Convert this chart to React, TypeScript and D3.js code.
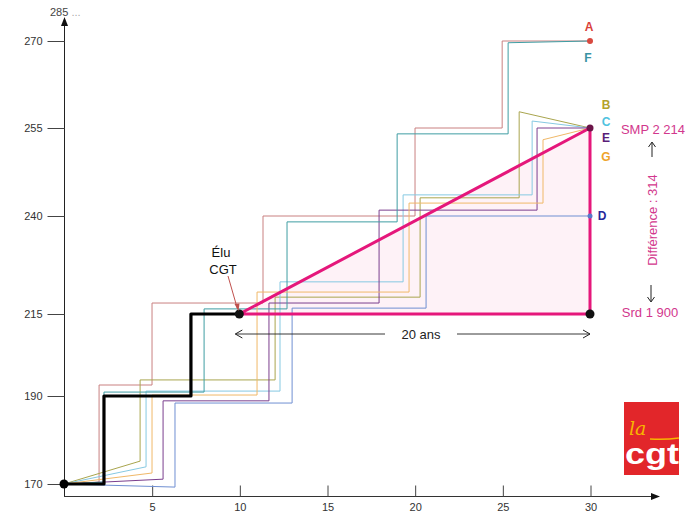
import { useEffect, useRef } from "react";
import * as d3 from "d3";

// échelles "à la main" : les graduations ne sont pas régulières
const yTicks = [170, 190, 215, 240, 255, 270];
const xTicks = [5, 10, 15, 20, 25, 30];

const serieNames = ["A", "B", "C", "D", "E", "F", "G"];
const serieColors = ["#c98080", "#a9a54e", "#86c9e2", "#6f8fd2", "#7b3f8e", "#3f9da3", "#f0b868"];
const labelColors = ["#d9413a", "#b3a22c", "#4fc3df", "#27279a", "#5a1e78", "#3a93a3", "#eea32a"];

const serieA: [number, number][] = [[0, 170], [2.0, 170.45], [2.0, 193.35], [5.02, 193.35], [5.02, 217.8], [11.35, 217.8], [11.35, 240], [20.02, 240], [20.02, 255], [24.99, 255], [24.99, 270], [30, 270]];
const serieB: [number, number][] = [[0, 170], [4.34, 175.2], [4.34, 194.9], [12.04, 194.9], [12.04, 219.3], [20.31, 219.3], [20.31, 243.1], [25.96, 243.1], [25.96, 257.8], [30, 255]];
const serieC: [number, number][] = [[0, 170], [4.68, 173.9], [4.68, 191.5], [12.32, 191.5], [12.32, 223.2], [19.34, 223.2], [19.34, 243.6], [26.7, 243.6], [26.7, 256.2], [30, 255]];
const serieD: [number, number][] = [[0, 170], [6.33, 169.3], [6.33, 188.4], [13.01, 188.4], [13.01, 216.5], [20.65, 216.5], [20.65, 240], [30, 240]];
const serieE: [number, number][] = [[0, 170], [5.65, 171.1], [5.65, 188.9], [11.69, 188.9], [11.69, 217.8], [17.97, 217.8], [17.97, 241.0], [26.98, 241.0], [26.98, 255], [30, 255]];
const serieF: [number, number][] = [[0, 170], [2.28, 170.45], [2.28, 191.2], [7.99, 191.2], [7.99, 216.3], [12.72, 216.3], [12.72, 238.5], [19.0, 238.5], [19.0, 254.0], [25.33, 254.0], [25.33, 269.7], [30, 270]];
const serieG: [number, number][] = [[0, 170], [5.02, 172.5], [5.02, 190.3], [11.01, 190.3], [11.01, 220.6], [19.68, 220.6], [19.68, 242.2], [27.32, 242.2], [27.32, 253.0], [30, 255]];
const series = [serieA, serieB, serieC, serieD, serieE, serieF, serieG];

// parcours de l'élu CGT
const eluCgt: [number, number][] = [[0, 170], [2.28, 170], [2.28, 190], [7.24, 190], [7.24, 215], [10, 215]];
// triangle : Srd 1 900 -> SMP 2 214 sur 20 ans
const triangle: [number, number][] = [[10, 215], [30, 215], [30, 255]];

const FONT = "'Liberation Sans', Arial, sans-serif";
const PINK = "#e5177b";
const PINK_TXT = "#d2378d";

const App = () => {
  const ref = useRef<SVGSVGElement>(null);

  useEffect(() => {
    if (!ref.current) return;
    const svg = d3.select(ref.current);
    svg.selectAll("*").remove();

    const x = d3.scaleLinear().domain([0, 30]).range([64, 590]);
    const y = d3
      .scaleLinear()
      .domain(yTicks)
      .range([484, 396, 314, 216, 128, 41]);

    const axisY0 = 496; // l'axe des x passe sous le point de départ
    const line = d3
      .line<[number, number]>()
      .x((d) => x(d[0]))
      .y((d) => y(d[1]));

    // zone rose
    svg
      .append("path")
      .attr("d", line(triangle) + "Z")
      .attr("fill", "#fdedf4")
      .attr("opacity", 0.7);

    // axes
    svg
      .append("line")
      .attr("x1", 64.5).attr("x2", 64.5)
      .attr("y1", axisY0).attr("y2", 24)
      .attr("stroke", "#222").attr("stroke-width", 1);
    svg.append("path").attr("d", "M64.5,17 L61,26 L68,26 Z").attr("fill", "#111");
    svg
      .append("line")
      .attr("x1", 64).attr("x2", 652)
      .attr("y1", axisY0 + 0.5).attr("y2", axisY0 + 0.5)
      .attr("stroke", "#333").attr("stroke-width", 1);
    svg.append("path").attr("d", `M660,${axisY0 + 0.5} L651,${axisY0 - 3} L651,${axisY0 + 4} Z`).attr("fill", "#111");

    const gy = svg
      .append("g")
      .attr("transform", "translate(64.5,0)")
      .call(d3.axisLeft(y).tickValues(yTicks).tickSize(17).tickPadding(5));
    gy.select(".domain").remove();
    gy.selectAll("line").attr("stroke", "#444");
    gy.selectAll("text").attr("fill", "#333").style("font-size", "11px").style("font-family", FONT);

    const gx = svg
      .append("g")
      .attr("transform", `translate(0.5,${axisY0 + 0.5})`)
      .call(d3.axisBottom(x).tickValues(xTicks).tickSize(-11).tickPadding(7));
    gx.select(".domain").remove();
    gx.selectAll("line").attr("stroke", "#444");
    gx.selectAll("text").attr("fill", "#333").style("font-size", "11px").style("font-family", FONT);

    const top = svg.append("text").attr("x", 50).attr("y", 16).style("font-family", FONT).style("font-size", "11px");
    top.append("tspan").attr("fill", "#444").text("285");
    top.append("tspan").attr("fill", "#aaa").text(" ...");

    // courbes A à G
    svg
      .append("g")
      .selectAll("path")
      .data(series)
      .enter()
      .append("path")
      .attr("d", (d) => line(d))
      .attr("fill", "none")
      .attr("stroke", (d, i) => serieColors[i])
      .attr("stroke-width", 1);

    // élu CGT
    svg
      .append("path")
      .attr("d", line(eluCgt))
      .attr("fill", "none")
      .attr("stroke", "#000")
      .attr("stroke-width", 3.2)
      .attr("stroke-linejoin", "round");

    // triangle rose
    svg
      .append("path")
      .attr("d", line(triangle) + "Z")
      .attr("fill", "none")
      .attr("stroke", PINK)
      .attr("stroke-width", 3)
      .attr("stroke-linejoin", "round");

    // points
    const dot = (px: number, py: number, r: number, c: string) =>
      svg.append("circle").attr("cx", x(px)).attr("cy", y(py)).attr("r", r).attr("fill", c);
    dot(0, 170, 4.5, "#000");
    dot(10, 215, 4.5, "#111");
    dot(30, 215, 4.5, "#111");
    dot(30, 255, 3.5, "#6b1448");
    dot(30, 270, 3, "#d8493f");
    dot(30, 240, 2.5, "#5a78c8");

    // étiquettes des courbes
    const labelPos: [number, number][] = [[589, 31], [606, 109], [606, 126], [602, 220], [606, 142], [588, 62], [606, 161]];
    svg
      .append("g")
      .selectAll("text")
      .data(serieNames)
      .enter()
      .append("text")
      .attr("x", (d, i) => labelPos[i][0])
      .attr("y", (d, i) => labelPos[i][1])
      .attr("text-anchor", "middle")
      .attr("fill", (d, i) => labelColors[i])
      .style("font-family", FONT)
      .style("font-size", "12px")
      .style("font-weight", "bold")
      .text((d) => d);

    // Élu CGT
    const elu = svg.append("g").style("font-family", FONT).style("font-size", "13px").attr("fill", "#111").attr("text-anchor", "middle");
    elu.append("text").attr("x", 221).attr("y", 256.5).text("Élu");
    elu.append("text").attr("x", 223).attr("y", 273.5).text("CGT");
    svg
      .append("line")
      .attr("x1", 228).attr("y1", 276)
      .attr("x2", 237.5).attr("y2", 309)
      .attr("stroke", "#c0504d").attr("stroke-width", 1);
    svg.append("path").attr("d", "M238.5,311 L234.5,304 L239.5,303.5 Z").attr("fill", "#c0504d");

    // 20 ans
    const ya = y(208.9);
    svg.append("line").attr("x1", x(10) - 4).attr("x2", 385).attr("y1", ya).attr("y2", ya).attr("stroke", "#222").attr("stroke-width", 0.9);
    svg.append("line").attr("x1", 457).attr("x2", x(30)).attr("y1", ya).attr("y2", ya).attr("stroke", "#222").attr("stroke-width", 0.9);
    svg.append("path").attr("d", `M${x(10) + 3},${ya - 4} L${x(10) - 4},${ya} L${x(10) + 3},${ya + 4}`).attr("fill", "none").attr("stroke", "#222");
    svg.append("path").attr("d", `M${x(30) - 7},${ya - 4} L${x(30)},${ya} L${x(30) - 7},${ya + 4}`).attr("fill", "none").attr("stroke", "#222");
    svg.append("text").attr("x", 421).attr("y", ya + 4.5).attr("text-anchor", "middle").style("font-family", FONT).style("font-size", "13px").attr("fill", "#222").text("20 ans");

    // annotations roses
    const pk = svg.append("g").style("font-family", FONT).style("font-size", "13px").attr("fill", PINK_TXT);
    pk.append("text").attr("x", 653).attr("y", 133.5).attr("text-anchor", "middle").text("SMP 2 214");
    pk.append("text").attr("x", 650).attr("y", 316.5).attr("text-anchor", "middle").text("Srd 1 900");
    pk.append("text")
      .attr("transform", "translate(656.5,220) rotate(-90)")
      .attr("text-anchor", "middle")
      .text("Différence : 314");
    svg.append("line").attr("x1", 652).attr("x2", 652).attr("y1", 157).attr("y2", 143).attr("stroke", "#222");
    svg.append("path").attr("d", "M648.5,147 L652,142 L655.5,147").attr("fill", "none").attr("stroke", "#222");
    svg.append("line").attr("x1", 651).attr("x2", 651).attr("y1", 285).attr("y2", 301).attr("stroke", "#222");
    svg.append("path").attr("d", "M647.5,297 L651,302 L654.5,297").attr("fill", "none").attr("stroke", "#222");

    // logo CGT
    const logo = svg.append("g");
    logo.append("rect").attr("x", 624).attr("y", 402).attr("width", 55).attr("height", 73).attr("fill", "#e2262a");
    logo.append("text")
      .attr("x", 629).attr("y", 435)
      .style("font-family", "'DejaVu Serif', serif")
      .style("font-style", "italic")
      .style("font-size", "19px")
      .attr("fill", "#f7b500")
      .text("la");
    logo.append("path").attr("d", "M650,439 Q665,440 679,438").attr("fill", "none").attr("stroke", "#f7b500").attr("stroke-width", 1.5);
    logo.append("text")
      .attr("x", 625).attr("y", 464)
      .attr("textLength", 54).attr("lengthAdjust", "spacingAndGlyphs")
      .style("font-family", FONT)
      .style("font-weight", "bold")
      .style("font-size", "29px")
      .attr("fill", "#fff")
      .text("cgt");
  }, []);

  return (
    <svg
      ref={ref}
      width={700}
      height={525}
      style={{ position: "absolute", left: 0, top: 0, background: "#fff" }}
    />
  );
};

export default App;
